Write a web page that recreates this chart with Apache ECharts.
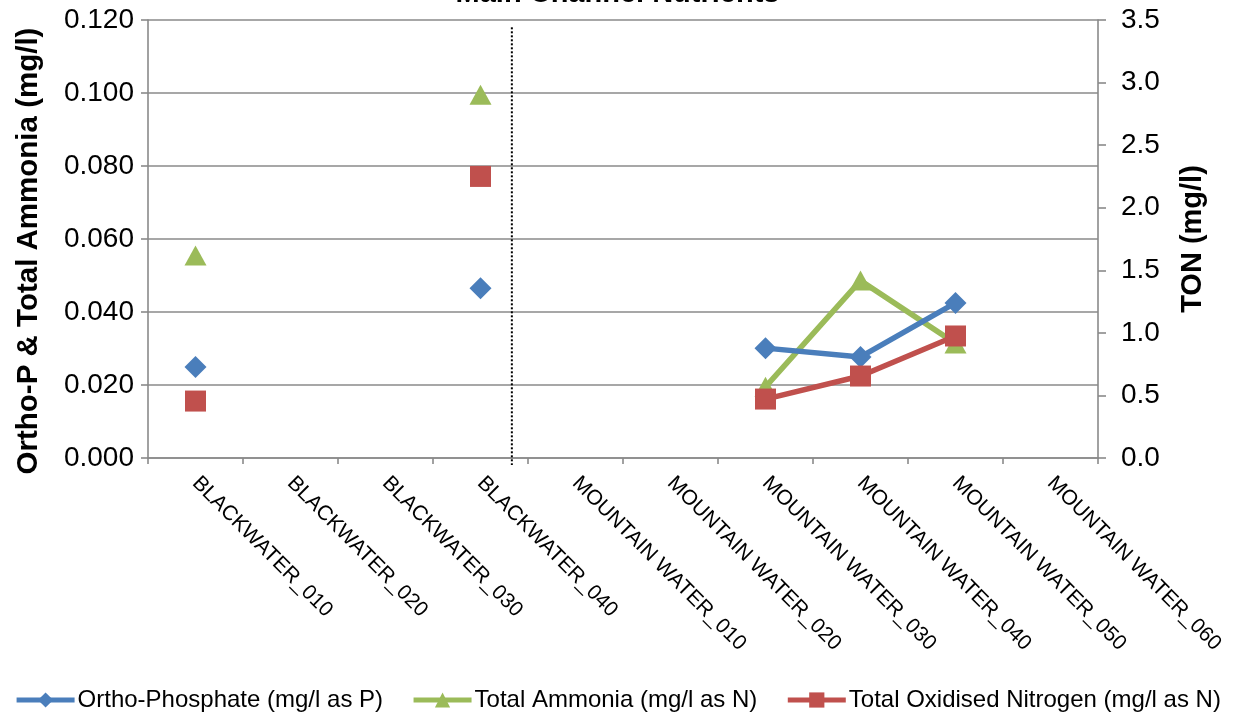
<!DOCTYPE html>
<html><head><meta charset="utf-8">
<script src="https://cdn.jsdelivr.net/npm/echarts@6/dist/echarts.min.js"></script>
<style>html,body{margin:0;padding:0;background:#fff}#c{width:1235px;height:716px}</style>
</head><body><div id="c"></div>
<script>
const categories = ['BLACKWATER_010','BLACKWATER_020','BLACKWATER_030','BLACKWATER_040','MOUNTAIN WATER_010','MOUNTAIN WATER_020','MOUNTAIN WATER_030','MOUNTAIN WATER_040','MOUNTAIN WATER_050','MOUNTAIN WATER_060'];
const orthoP  = [0.0249, null, null, 0.0465, null, null, 0.0301, 0.0277, 0.0425, null];
const ammonia = [0.0555, null, null, 0.0995, null, null, 0.0195, 0.0486, 0.0314, null];
const ton     = [0.455, null, null, 2.25, null, null, 0.471, 0.655, 0.975, null];
const seriesNames = ['Ortho-Phosphate (mg/l as P)', 'Total Ammonia (mg/l as N)', 'Total Oxidised Nitrogen (mg/l as N)'];
const separatorPos = 3.33;

const FONT = 'Liberation Sans, Arial, sans-serif';
const GRID_C = '#8a8a8a';
const chart = echarts.init(document.getElementById('c'));
chart.setOption({
  animation: false,
  title: { text: 'Main Channel Nutrients', left: 'center', top: -26,
    textStyle: { fontFamily: FONT, fontSize: 29, fontWeight: 'bold', color: '#000' } },
  grid: { left: 148, right: 137, top: 20, bottom: 258, containLabel: false },
  legend: {
    data: seriesNames, top: 683, left: 'center', itemWidth: 58, itemHeight: 19, itemGap: 28,
    lineStyle: { width: 5 },
    textStyle: { fontFamily: FONT, fontSize: 24, color: '#000', padding: [0, 0, 0, -2] }
  },
  xAxis: [{
    type: 'category', data: categories, boundaryGap: true,
    axisLine: { lineStyle: { color: GRID_C, width: 1.6 } },
    axisTick: { show: true, length: 6, lineStyle: { color: GRID_C, width: 1.6 } },
    axisLabel: { rotate: -45, interval: 0, margin: 22, fontFamily: FONT, fontSize: 21, color: '#000' },
    splitLine: { show: false }
  }, {
    type: 'value', min: -0.5, max: 9.5, show: false
  }],
  yAxis: [{
    type: 'value', min: 0, max: 0.12, interval: 0.02, position: 'left',
    name: 'Ortho-P & Total Ammonia (mg/l)', nameLocation: 'middle', nameGap: 104,
    nameTextStyle: { fontFamily: FONT, fontSize: 29.5, fontWeight: 'bold', color: '#000', padding: [0, 24, 0, 0] },
    axisLine: { show: true, onZero: false, lineStyle: { color: GRID_C, width: 1.6 } },
    axisTick: { show: true, length: 7, lineStyle: { color: GRID_C, width: 1.6 } },
    axisLabel: { formatter: v => v.toFixed(3), margin: 14, fontFamily: FONT, fontSize: 28, color: '#000' },
    splitLine: { show: true, lineStyle: { color: GRID_C, width: 1.6 } }
  }, {
    type: 'value', min: 0, max: 3.5, interval: 0.5, position: 'right',
    name: 'TON (mg/l)', nameLocation: 'middle', nameGap: 80,
    nameTextStyle: { fontFamily: FONT, fontSize: 29, fontWeight: 'bold', color: '#000' },
    axisLine: { show: true, onZero: false, lineStyle: { color: GRID_C, width: 1.6 } },
    axisTick: { show: true, length: 8, lineStyle: { color: GRID_C, width: 1.6 } },
    axisLabel: { formatter: v => v.toFixed(1), margin: 23, fontFamily: FONT, fontSize: 28, color: '#000' },
    splitLine: { show: false }
  }],
  series: [{
    name: seriesNames[0], type: 'line', data: orthoP, yAxisIndex: 0, connectNulls: false,
    symbol: 'diamond', symbolSize: [22, 22], showAllSymbol: true,
    lineStyle: { color: '#4A7EBB', width: 5.5 }, itemStyle: { color: '#4A7EBB' }, z: 4
  }, {
    name: seriesNames[1], type: 'line', data: ammonia, yAxisIndex: 0, connectNulls: false,
    symbol: 'triangle', symbolSize: [22, 20], showAllSymbol: true,
    lineStyle: { color: '#9BBB59', width: 5.5 }, itemStyle: { color: '#9BBB59' }, z: 3
  }, {
    name: seriesNames[2], type: 'line', data: ton, yAxisIndex: 1, connectNulls: false,
    symbol: 'rect', symbolSize: [21, 21], showAllSymbol: true,
    lineStyle: { color: '#C0504D', width: 5.5 }, itemStyle: { color: '#C0504D' }, z: 5
  }, {
    type: 'custom', xAxisIndex: 1, yAxisIndex: 0, silent: true, clip: false, z: 2,
    data: [[separatorPos, 0.118]],
    renderItem: (params, api) => {
      const top = api.coord([api.value(0), api.value(1)]);
      const bot = api.coord([api.value(0), 0]);
      return { type: 'line', shape: { x1: top[0], y1: top[1], x2: bot[0], y2: bot[1] + 7 },
        style: { stroke: '#000', lineWidth: 2, lineDash: [2, 2] } };
    }
  }]
});
</script></body></html>
